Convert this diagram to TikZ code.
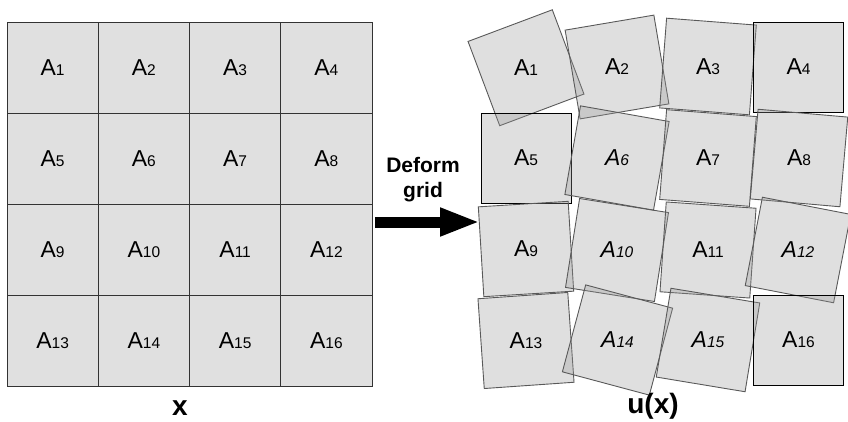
\documentclass[tikz,border=0pt]{standalone}
\usepackage{fontspec}
\setmainfont{Liberation Sans}
\usetikzlibrary{arrows.meta}
\newcommand\dg[1]{{\fontsize{15.5}{15.5}\selectfont #1}}
\tikzset{
  cellbox/.style={draw=black!80, line width=0.9pt, fill={rgb,255:red,224;green,224;blue,224},
    minimum width=91.25pt, minimum height=91pt, inner sep=0pt, anchor=center},
  ubox/.style={draw=black!65, line width=0.9pt, fill={rgb,255:red,150;green,150;blue,150}, fill opacity=0.3,
    minimum width=90pt, minimum height=90pt, inner sep=0pt},
  fbox/.style={ubox, draw=black},
  lab/.style={font=\fontsize{23}{23}\selectfont, inner sep=0pt},
  axlab/.style={font=\fontsize{28}{28}\selectfont\bfseries, inner sep=0pt},
}
\begin{document}
\begin{tikzpicture}[x=1pt,y=-1pt]
\useasboundingbox (0,0) rectangle (848,422);
% left grid
\foreach \r in {0,1,2,3}{
  \foreach \c in {0,1,2,3}{
    \pgfmathtruncatemacro\n{4*\r+\c+1}
    \node[cellbox] (c\n) at ({7+91.25*\c+45.625},{22+91*\r+45.5}) {};
    \node[lab] (ct\n) at (c\n.center) {A\dg{\n}};
  }
}
\node[axlab] (xl) at (180,408) {x};
% right grid (deformed)
\node[ubox, rotate=20.6] (b1) at (526,67.75) {};
\node[ubox, rotate=9.6] (b2) at (617,67) {};
\node[ubox, rotate=-4.4] (b3) at (708,66.5) {};
\node[fbox] (b4) at (798.5,67) {};
\node[fbox] (b5) at (526,158) {};
\node[ubox, rotate=-10] (b6) at (617,158) {};
\node[ubox, rotate=-4.4] (b7) at (708,158) {};
\node[ubox, rotate=-5] (b8) at (799,158) {};
\node[ubox, rotate=3.5] (b9) at (526,249) {};
\node[ubox, rotate=-9] (b10) at (617,250) {};
\node[ubox, rotate=-4] (b11) at (708,250) {};
\node[ubox, rotate=-11] (b12) at (798,250) {};
\node[ubox, rotate=4] (b13) at (526,340.5) {};
\node[ubox, rotate=-15] (b14) at (617.5,340) {};
\node[ubox, rotate=-9.4] (b15) at (708,340) {};
\node[fbox] (b16) at (798.5,340) {};
\node[lab] (t1) at (b1.center) {A\dg{1}};
\node[lab] (t2) at (b2.center) {A\dg{2}};
\node[lab] (t3) at (b3.center) {A\dg{3}};
\node[lab] (t4) at (b4.center) {A\dg{4}};
\node[lab] (t5) at (b5.center) {A\dg{5}};
\node[lab] (t6) at (b6.center) {\itshape A\dg{6}};
\node[lab] (t7) at (b7.center) {A\dg{7}};
\node[lab] (t8) at (b8.center) {A\dg{8}};
\node[lab] (t9) at (b9.center) {A\dg{9}};
\node[lab] (t10) at (b10.center) {\itshape A\dg{10}};
\node[lab] (t11) at (b11.center) {A\dg{11}};
\node[lab] (t12) at (b12.center) {\itshape A\dg{12}};
\node[lab] (t13) at (b13.center) {A\dg{13}};
\node[lab] (t14) at (b14.center) {\itshape A\dg{14}};
\node[lab] (t15) at (b15.center) {\itshape A\dg{15}};
\node[lab] (t16) at (b16.center) {A\dg{16}};
\node[axlab] (ul) at (653,406) {u(x)};
% arrow
\node[font=\fontsize{21}{25}\selectfont\bfseries, align=center, inner sep=0pt] (dg) at (423,180) {Deform\\grid};
\coordinate (as) at (375,222);
\coordinate (ae) at (480,222);
\draw[line width=11pt, -{Triangle[length=40pt,width=26pt]}] (as) -- (ae);
\end{tikzpicture}
\end{document}
